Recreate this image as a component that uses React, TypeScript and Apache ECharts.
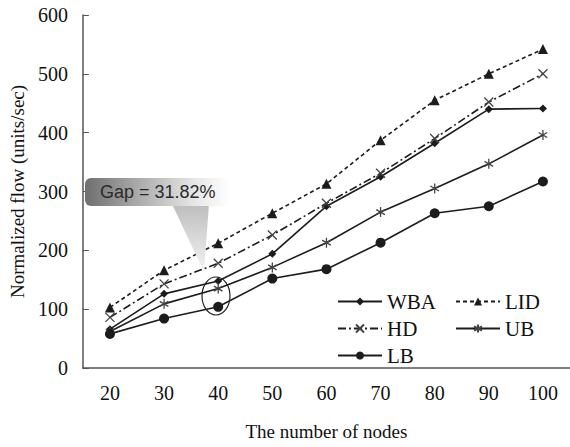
import React, { useEffect, useRef } from "react";
import * as echarts from "echarts";

const categories = ["20", "30", "40", "50", "60", "70", "80", "90", "100"];
const WBA = [66, 126, 148, 194, 275, 325, 382, 440, 441];
const LID = [103, 166, 212, 263, 313, 387, 455, 500, 542];
const HD = [86, 143, 178, 226, 280, 331, 390, 452, 500];
const UB = [62, 109, 135, 171, 213, 265, 305, 347, 396];
const LB = [58, 84, 104, 152, 168, 213, 263, 275, 317];
const yTicks = { min: 0, max: 600, interval: 100 };
const gapLabel = "Gap = 31.82%";

const SERIF = "'Liberation Serif', 'Times New Roman', serif";
const INK = "#1c1c1c";

const crossPath = "path://M0,0L10,10M10,0L0,10";
const starPath = "path://M5,0L5,10M0.7,2.5L9.3,7.5M0.7,7.5L9.3,2.5";

export default function App() {
  const ref = useRef<HTMLDivElement>(null);
  useEffect(() => {
    if (!ref.current) return;
    const chart = echarts.init(ref.current, undefined, { renderer: "svg" });
    const mk = (name: string, data: number[], symbol: string, symbolSize: number, dash: any, stroke = false) => ({
      name,
      type: "line",
      data,
      symbol,
      symbolSize,
      symbolKeepAspect: true,
      showSymbol: true,
      lineStyle: { color: INK, width: 1.6, type: dash },
      itemStyle: stroke
        ? { color: "rgba(0,0,0,0)", borderColor: "#444", borderWidth: 1.3 }
        : { color: INK, borderColor: INK, borderWidth: 0 },
      emphasis: { disabled: true },
      z: 3,
    });
    const legendCommon = {
      orient: "vertical",
      itemWidth: 44,
      itemHeight: 10,
      itemGap: 6,
      textStyle: { fontFamily: SERIF, fontSize: 21, color: "#111" },
      selectedMode: false,
    };
    chart.setOption({
      animation: false,
      backgroundColor: "#fff",
      grid: { left: 78, top: 15, bottom: 79, right: -1, containLabel: false },
      legend: [
        { ...legendCommon, left: 332, top: 286, data: ["WBA", "HD", "LB"] },
        { ...legendCommon, left: 450, top: 286, data: ["LID", "UB"] },
      ],
      xAxis: {
        type: "category",
        data: categories,
        boundaryGap: true,
        name: "The number of nodes",
        nameLocation: "middle",
        nameGap: 54,
        nameTextStyle: { fontFamily: SERIF, fontSize: 19, color: "#111" },
        axisLine: { lineStyle: { color: "#555", width: 1.5 } },
        axisTick: { inside: true, length: 6, lineStyle: { color: "#555" } },
        axisLabel: { fontFamily: SERIF, fontSize: 20, color: "#111", margin: 15 },
        splitLine: { show: false },
      },
      yAxis: {
        type: "value",
        min: yTicks.min,
        max: yTicks.max,
        interval: yTicks.interval,
        name: "Normalized flow (units/sec)",
        nameLocation: "middle",
        nameGap: 54,
        nameTextStyle: { fontFamily: SERIF, fontSize: 19, color: "#111" },
        axisLine: { show: true, lineStyle: { color: "#555", width: 1.5 } },
        axisTick: { show: true, inside: true, length: 6, lineStyle: { color: "#555" } },
        axisLabel: { fontFamily: SERIF, fontSize: 20, color: "#111", margin: 15 },
        splitLine: { show: false },
      },
      series: [
        mk("WBA", WBA, "diamond", 8, "solid"),
        mk("LID", LID, "triangle", 10, [4, 3]),
        mk("HD", HD, crossPath, 9, [8, 3, 2, 3], true),
        mk("UB", UB, starPath, 10, "solid", true),
        mk("LB", LB, "circle", 10, "solid"),
      ],
      graphic: [
        {
          type: "polygon",
          shape: { points: [[172, 204], [209, 204], [204, 272]] },
          style: {
            fill: new echarts.graphic.LinearGradient(0, 0, 0, 1, [
              { offset: 0, color: "#bdbdbd" },
              { offset: 1, color: "#f4f4f4" },
            ]),
          },
          z: 10,
        },
        {
          type: "rect",
          shape: { x: 85, y: 178, width: 145, height: 28, r: 6 },
          style: {
            fill: new echarts.graphic.LinearGradient(0, 0, 1, 0, [
              { offset: 0, color: "#6f6f6f" },
              { offset: 0.35, color: "#a8a8a8" },
              { offset: 0.75, color: "#e6e6e6" },
              { offset: 1, color: "#ffffff" },
            ]),
          },
          z: 11,
        },
        {
          type: "text",
          x: 100,
          y: 192,
          style: {
            text: gapLabel,
            fontFamily: "'Liberation Sans', Arial, sans-serif",
            fontSize: 18,
            fill: "#2a2a2a",
            verticalAlign: "middle",
          },
          z: 12,
        },
        {
          type: "ellipse",
          shape: { cx: 216, cy: 296, rx: 14, ry: 19 },
          style: { fill: "none", stroke: "#222", lineWidth: 1.2 },
          z: 12,
        },
      ],
    });
    return () => chart.dispose();
  }, []);
  return (
    <div
      ref={ref}
      style={{ position: "fixed", left: 0, top: 0, width: 570, height: 447, background: "#fff" }}
    />
  );
}
